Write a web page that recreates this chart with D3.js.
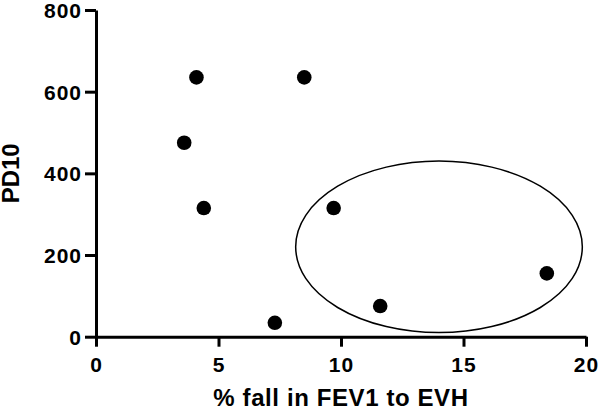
<!DOCTYPE html>
<html>
<head>
<meta charset="utf-8">
<script src="https://cdn.jsdelivr.net/npm/d3@7"></script>
<style>
  body { margin: 0; background: #fff; }
  svg { display: block; font-family: "Liberation Sans", Arial, sans-serif; font-weight: bold; }
  .axis text { font-size: 21px; font-weight: bold; fill: #000; letter-spacing: 1px; font-family: "Liberation Sans", Arial, sans-serif; }
</style>
</head>
<body>
<svg></svg>
<script>
// % fall in FEV1 and PD10 per subject
const fallFEV1 = [4.1, 8.5, 3.6, 4.4, 9.7, 7.3, 11.6, 18.4];
const pd10 = [635, 635, 475, 315, 315, 34, 75, 155];

const xTicks = [0, 5, 10, 15, 20];
const yTicks = [0, 200, 400, 600, 800];

// the ellipse drawn round the responders (centre and radii in data units)
const ringCentre = [14, 220];
const ringRadius = [5.85, 210];

const width = 600;
const height = 410;

const svg = d3.select('svg')
    .attr('width', width)
    .attr('height', height);

const xScale = d3.scaleLinear()
    .domain([0, 20])
    .range([96, 586]);

const yScale = d3.scaleLinear()
    .domain([0, 800])
    .range([336.7, 10]);

const points = fallFEV1.map((x, i) => ({ x: x, y: pd10[i] }));

const xAxis = d3.axisBottom(xScale)
    .tickValues(xTicks)
    .tickSize(10)
    .tickSizeOuter(0)
    .tickPadding(10);

const yAxis = d3.axisLeft(yScale)
    .tickValues(yTicks)
    .tickSize(11)
    .tickSizeOuter(0)
    .tickPadding(3);

const gx = svg.append('g')
    .attr('class', 'axis')
    .attr('transform', 'translate(0,' + yScale(0) + ')')
    .call(xAxis);

const gy = svg.append('g')
    .attr('class', 'axis')
    .attr('transform', 'translate(' + xScale(0) + ',0)')
    .call(yAxis);

[gx, gy].forEach(g => {
    g.selectAll('path, line')
        .attr('stroke', '#000')
        .attr('stroke-width', 3);
});
gx.selectAll('text').attr('dy', '0.71em');
gy.selectAll('text').attr('dy', '0.35em');

svg.append('ellipse')
    .attr('cx', xScale(ringCentre[0]))
    .attr('cy', yScale(ringCentre[1]))
    .attr('rx', xScale(ringRadius[0]) - xScale(0))
    .attr('ry', yScale(0) - yScale(ringRadius[1]))
    .attr('fill', 'none')
    .attr('stroke', '#000')
    .attr('stroke-width', 1.5);

svg.selectAll('circle.dot')
    .data(points)
    .enter()
    .append('circle')
    .attr('class', 'dot')
    .attr('cx', d => xScale(d.x))
    .attr('cy', d => yScale(d.y))
    .attr('r', 7.3)
    .attr('fill', '#000');

svg.append('text')
    .attr('x', (xScale(0) + xScale(20)) / 2)
    .attr('y', 406)
    .attr('text-anchor', 'middle')
    .style('font-size', '24px')
    .style('letter-spacing', '0.6px')
    .text('% fall in FEV1 to EVH');

svg.append('text')
    .attr('transform', 'translate(19,' + (yScale(0) + yScale(800)) / 2 + ') rotate(-90)')
    .attr('text-anchor', 'middle')
    .style('font-size', '24px')
    .text('PD10');
</script>
</body>
</html>
